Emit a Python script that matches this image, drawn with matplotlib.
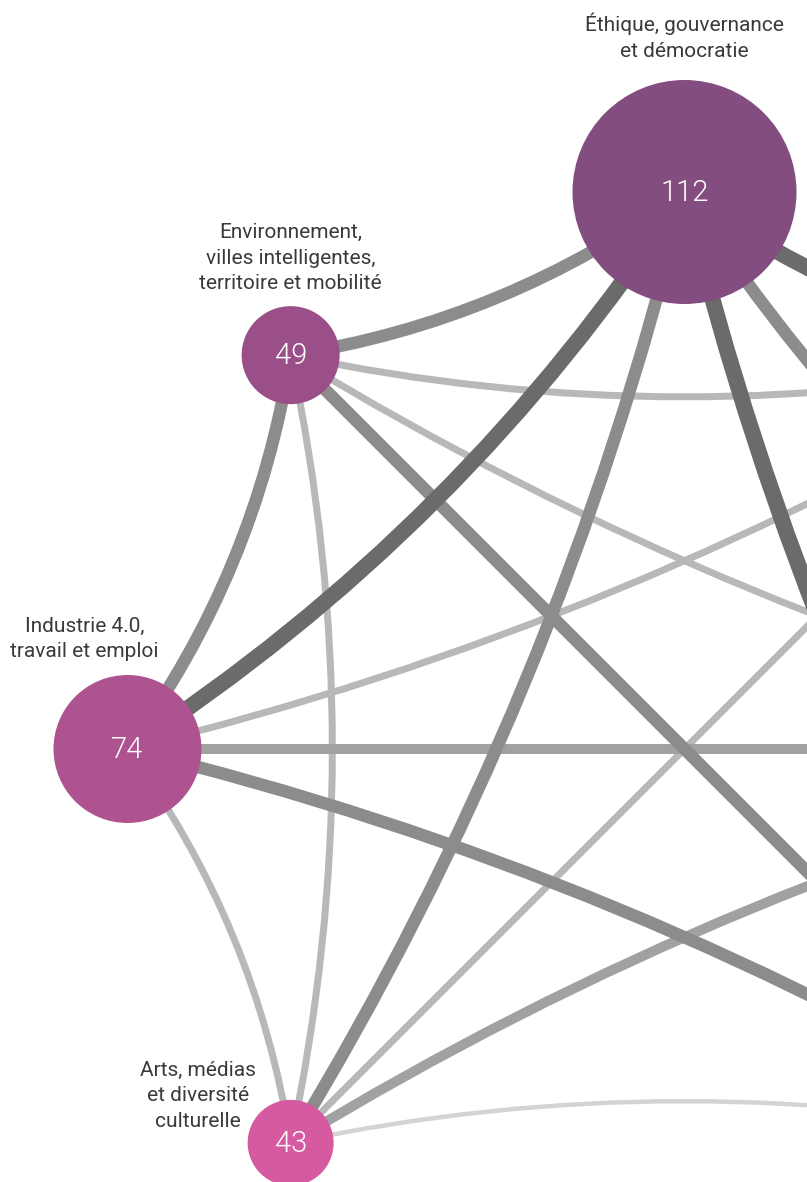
import numpy as np
import matplotlib
matplotlib.use("Agg")
import matplotlib.pyplot as plt
from matplotlib.path import Path
from matplotlib.patches import PathPatch, Circle

# nodes placed clockwise from the top of the circle (only 4 are inside the crop)
topics = [
    "Éthique, gouvernance\net démocratie",
    "Environnement,\nvilles intelligentes,\nterritoire et mobilité",
    "Industrie 4.0,\ntravail et emploi",
    "Arts, médias\net diversité\nculturelle",
    "", "", "", "",
]
counts = [112, 49, 74, 43, None, None, None, None]
node_colors = ["#844d80", "#9b4f89", "#ae538f", "#d65a9f", None, None, None, None]

# links between topics (level = strength class)
edge_src = [0, 0, 0, 0, 0, 0, 1, 1, 1, 1, 1, 2, 2, 2, 2, 3, 3, 3]
edge_dst = [1, 2, 3, 5, 6, 7, 2, 3, 5, 6, 7, 3, 5, 6, 7, 5, 6, 7]
edge_level = [4, 5, 4, 5, 4, 5, 4, 2, 4, 2, 2, 2, 4, 3, 2, 1, 3, 2]

level_style = {
    5: ("#6b6b6b", 16),
    4: ("#8c8c8c", 12.5),
    3: ("#a1a1a1", 10),
    2: ("#b8b8b8", 7),
    1: ("#d4d4d4", 4.5),
}

W, H = 807, 1182
CX, CY, R = 684.5, 749, 557
PX = 72 / 100  # points per pixel at dpi 100

label_offset = [(0, -155), (0, -97), (-43, -110), (-93, -47), (0, 0), (0, 0), (0, 0), (0, 0)]


def node_xy(i):
    a = np.radians(90 + 45 * i)
    return CX + R * np.cos(a), CY - R * np.sin(a)


def edge_path(i, j):
    p0 = np.array(node_xy(i))
    p2 = np.array(node_xy(j))
    mid = (p0 + p2) / 2
    chord = np.linalg.norm(p2 - p0)
    to_c = np.array([CX, CY]) - mid
    d = np.linalg.norm(to_c)
    if d < 1e-6:
        ctrl = mid
    else:
        half = np.arccos(np.clip(d / R, -1, 1))  # half of the angular separation
        sag = 0.063 * chord * np.sqrt(max(np.cos(half), 0))
        ctrl = mid + 2 * sag * to_c / d
    return Path([p0, ctrl, p2], [Path.MOVETO, Path.CURVE3, Path.CURVE3])


fig = plt.figure(figsize=(W / 100, H / 100), dpi=100)
ax = fig.add_axes([0, 0, 1, 1])
ax.set_xlim(0, W)
ax.set_ylim(H, 0)
ax.axis("off")

order = np.argsort(edge_level, kind="stable")
for k in order:
    col, lw = level_style[edge_level[k]]
    ax.add_patch(PathPatch(edge_path(edge_src[k], edge_dst[k]), facecolor="none",
                           edgecolor=col, lw=lw * PX, capstyle="butt", zorder=1))

for i, (name, n, col) in enumerate(zip(topics, counts, node_colors)):
    if n is None:
        continue
    x, y = node_xy(i)
    ax.add_patch(Circle((x, y), n, facecolor=col, edgecolor="none", zorder=3))
    ax.text(x, y + 1, str(n), ha="center", va="center", color="white",
            fontsize=21, family=["Roboto", "DejaVu Sans"], fontweight=300,
            zorder=4)
    dx, dy = label_offset[i]
    ax.text(x + dx, y + dy, name, ha="center", va="center", color="#3a3a3a",
            fontsize=15, family=["Roboto", "DejaVu Sans"], linespacing=1.45,
            zorder=4)

fig.savefig("out.png", dpi=100)
